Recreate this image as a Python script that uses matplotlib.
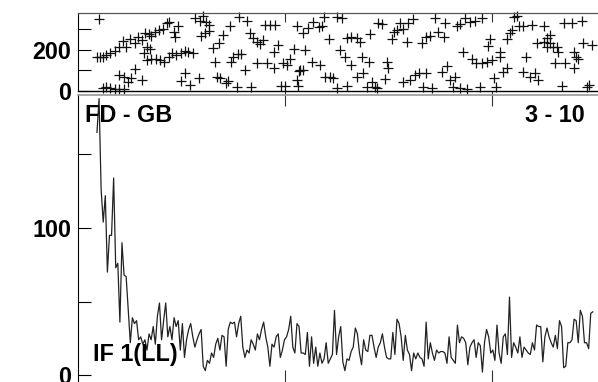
import numpy as np
import matplotlib as mpl
mpl.use('Agg')
import matplotlib.pyplot as plt

plt.rcParams['font.family'] = 'Liberation Sans'
plt.rcParams['font.weight'] = 'bold'

W, H = 598, 382

# lower panel: IF 1(LL) series, hours 2.2 .. 59.7
if_start, if_end = 2.2, 59.7
if_values = [
    165, 188, 126, 104, 122, 70, 95, 95, 134, 73, 76, 36, 90, 68, 67, 44, 22, 39, 35,
    37, 24, 26, 21, 24, 17, 28, 24, 33, 21, 40, 49, 24, 37, 49, 26, 33, 24, 39, 33,
    37, 17, 35, 12, 24, 31, 35, 26, 19, 24, 28, 31, 6, 3, 10, 8, 15, 12, 21, 25, 17,
    27, 26, 6, 31, 36, 35, 36, 26, 35, 40, 19, 12, 17, 15, 24, 21, 17, 28, 24, 31,
    36, 26, 19, 6, 21, 19, 26, 28, 12, 17, 24, 26, 31, 40, 19, 15,
    35, 33, 15, 15, 14, 29, 6, 26, 8, 19, 6, 15, 8, 11, 22, 8, 11, 14, 44, 14, 26,
    33, 9, 3, 11, 10, 16, 19, 32, 28, 15, 7, 24, 17, 16, 27, 27, 19, 12, 19, 22, 28,
    19, 12, 11, 11, 29, 14, 38, 35, 26, 10, 27, 17, 14, 3, 15, 11, 15, 12, 11, 6, 36,
    11, 22, 15, 10, 17, 15, 16, 16, 15, 8, 26, 12, 10, 8, 34, 22, 26, 25, 22, 7, 19,
    22, 24, 12, 22, 20, 2, 22, 31, 26, 15, 17, 10, 34, 15, 8, 26, 28, 14, 53, 12, 22,
    19, 15, 26, 12, 19, 17, 15, 14, 22, 17, 34, 33, 33, 9, 26, 32, 26, 22, 19, 27, 18,
    37, 33, 5, 6, 22, 22, 24, 38, 37, 22, 44, 40, 22, 22, 18, 42, 43,
]

# upper panel: scatter (hour, value)
fd_hours = [
    2.2, 2.4, 2.6, 2.9, 2.9, 3.3, 3.3, 3.7, 3.7, 4.3, 4.3, 4.7, 4.7, 4.8, 5.2, 5.3,
    5.3, 5.6, 5.8, 6.0, 6.2, 6.6, 6.6, 6.9, 7.4, 7.4, 7.6, 7.8, 8.0, 8.0, 8.2, 8.4,
    8.5, 8.5, 8.9, 9.0, 9.4, 9.5, 9.8, 10.0, 10.3, 10.5, 10.6, 10.9, 11.1, 11.3, 11.4,
    11.6, 12.0, 12.0, 12.4, 12.4, 12.8, 13.0, 13.3, 13.6, 14.0, 14.2, 14.3, 14.5, 14.7,
    14.9, 15.2, 15.2, 15.7, 15.9, 16.1, 16.3, 16.5, 16.8, 17.2, 17.4, 17.6, 17.8, 18.0,
    18.4, 18.5, 18.7, 18.9, 19.4, 19.6, 19.9, 20.1, 20.3, 20.7, 20.7, 21.1, 21.5, 21.7,
    21.9, 22.3, 22.7, 22.7, 22.8, 23.2, 23.5, 23.8, 24.0, 24.2, 24.6, 25.0, 25.4, 25.5,
    25.4, 25.6,
    25.7, 26.1, 26.3, 26.1, 26.7, 27.1, 27.3, 27.9, 28.1, 28.3, 28.5, 28.6, 29.1, 29.2,
    29.6, 30.0, 30.0, 30.4, 30.6, 31.0, 31.2, 31.2, 31.7, 31.7, 32.3, 32.3, 32.7, 32.9,
    33.1, 33.5, 33.7, 33.9, 34.1, 34.4, 34.7, 34.8, 35.2, 35.6, 35.8, 36.0, 36.4, 36.6,
    37.0, 37.3, 37.7, 37.7, 38.1, 38.3, 38.5, 38.9, 39.1, 39.5, 39.9, 40.0, 40.4, 40.4,
    40.8, 41.0, 41.4, 41.8, 42.2, 42.4, 42.6, 42.8, 43.1, 43.5, 43.7, 43.9, 44.3, 44.3,
    44.7, 44.9, 45.1, 45.5, 45.7, 46.0, 46.2, 46.6, 46.8, 46.8, 47.4, 47.5, 47.8, 48.0,
    48.2, 48.5, 48.9, 48.9, 49.3, 49.7, 49.7, 50.1, 50.3, 50.6, 50.9, 51.1, 51.6, 51.6,
    52.0, 52.4, 52.6, 53.0, 53.2, 53.4, 54.0, 54.0, 54.4, 54.4, 54.7, 54.7, 55.1, 55.3,
    55.5, 55.7, 56.1, 56.3, 56.5, 57.3, 57.5, 57.5, 57.8, 58.0, 58.4, 58.6, 59.0, 59.2,
    59.6,
]
fd_values = [
    164, 351, 164, 16, 167, 176, 18, 16, 187, 197, 10, 8, 78, 216, 246, 70,
    8, 216, 46, 254, 62, 233, 107, 265, 54, 249, 184, 281, 216, 151, 278, 203,
    268, 154, 289, 154, 298, 151, 301, 143, 330, 164, 337, 184, 289, 265, 176,
    317, 184, 50, 197, 89, 192, 29, 184, 354, 62, 343, 268, 366, 281,
    338, 322, 294, 208, 143, 70, 233, 62, 273, 37, 50, 317, 143, 164,
    18, 180, 359, 180, 102, 343, 281, 18, 257, 241, 135, 229, 249, 322,
    135, 322, 192, 111, 322, 224, 24, 135, 24, 127, 154, 203, 54, 24,
    317, 98,
    102, 281, 200, 102, 306, 143, 338, 314, 127, 317, 359, 67, 252, 67,
    62, 13, 359, 200, 354, 164, 257, 24, 265, 127, 257, 67, 241, 167,
    89, 18, 143, 278, 46, 18, 13, 333, 327, 57, 143, 111, 252, 289,
    298, 330, 301, 46, 241, 333, 54, 350, 78, 86, 233, 18, 86, 262,
    268, 13, 354, 289, 94, 265, 333, 122, 54, 18, 70, 317, 327, 13,
    192, 354, 8, 338, 154, 343, 135, 18, 354, 138, 143, 220, 252, 151,
    62, 18, 192, 164, 94, 252, 111, 281, 298, 359, 366, 317, 317, 94,
    164, 70, 322, 86, 233, 54, 317, 241, 216, 257, 273, 233, 216, 135,
    216, 192, 24, 333, 135, 330, 111, 192, 167, 154, 343, 233, 18, 29,
    224,
]

x_range = (0, 60.3)
day_ticks = [24, 48]
top_major, top_minor = [0, 200], [100, 300]
bot_major, bot_minor = [0, 100], [50, 150]

fig = plt.figure(figsize=(W / 100, H / 100), dpi=100)

left = 78 / W
width = 1 - left
ax1 = fig.add_axes([left, 1 - 91 / H, width, 78 / H])
ax2 = fig.add_axes([left, -1 / H, width, (383 - 94.5) / H])
ax2.patch.set_visible(False)

# upper panel
ax1.plot(fd_hours, fd_values, linestyle='none', marker='+', ms=6.5, mew=0.9,
         color='#111111', clip_on=False)
ax1.set_xlim(*x_range)
ax1.set_ylim(0, 380)
ax1.set_yticks(top_major)
ax1.set_yticks(top_minor, minor=True)
ax1.set_xticks(day_ticks)
ax1.tick_params(axis='y', which='both', direction='in', length=9.4, width=0.8,
                labelsize=16.8, pad=5)
ax1.tick_params(axis='x', direction='out', length=11, width=0.8, color='#333333',
                labelbottom=False, top=False)
for s in ['right']:
    ax1.spines[s].set_visible(False)
ax1.spines['top'].set_color('#555555')
ax1.spines['bottom'].set_linewidth(1.0)
sec = ax1.secondary_xaxis('top')
sec.set_xticks(day_ticks)
sec.tick_params(direction='in', length=6.5, width=0.8, color='#333333', labeltop=False)
sec.spines['top'].set_color('#555555')

# lower panel
t = np.linspace(if_start, if_end, len(if_values))
ax2.plot(t, if_values, color='#222222', lw=0.9)
ax2.set_xlim(*x_range)
ax2.set_ylim(-5.4, 190.8)
ax2.set_yticks(bot_major)
ax2.set_yticks(bot_minor, minor=True)
ax2.set_xticks(day_ticks)
ax2.tick_params(axis='y', which='both', direction='in', length=9.4, width=0.8,
                labelsize=16.8, pad=5)
ax2.tick_params(axis='x', direction='in', length=9.4, width=0.8, color='#333333',
                labelbottom=False)
ax2.spines['right'].set_visible(False)
ax2.spines['bottom'].set_visible(False)
ax2.spines['top'].set_color('#999999')
ax2.spines['top'].set_linewidth(1.2)

fig.text(85 / W, 1 - 122 / H, 'FD - GB', fontsize=16.8, va='baseline', ha='left', zorder=5)
fig.text(585 / W, 1 - 122 / H, '3 - 10', fontsize=16.8, va='baseline', ha='right', zorder=5)
fig.text(93 / W, 1 - 361 / H, 'IF 1(LL)', fontsize=16.8, va='baseline', ha='left', zorder=5)

fig.savefig('out.png', dpi=100)
